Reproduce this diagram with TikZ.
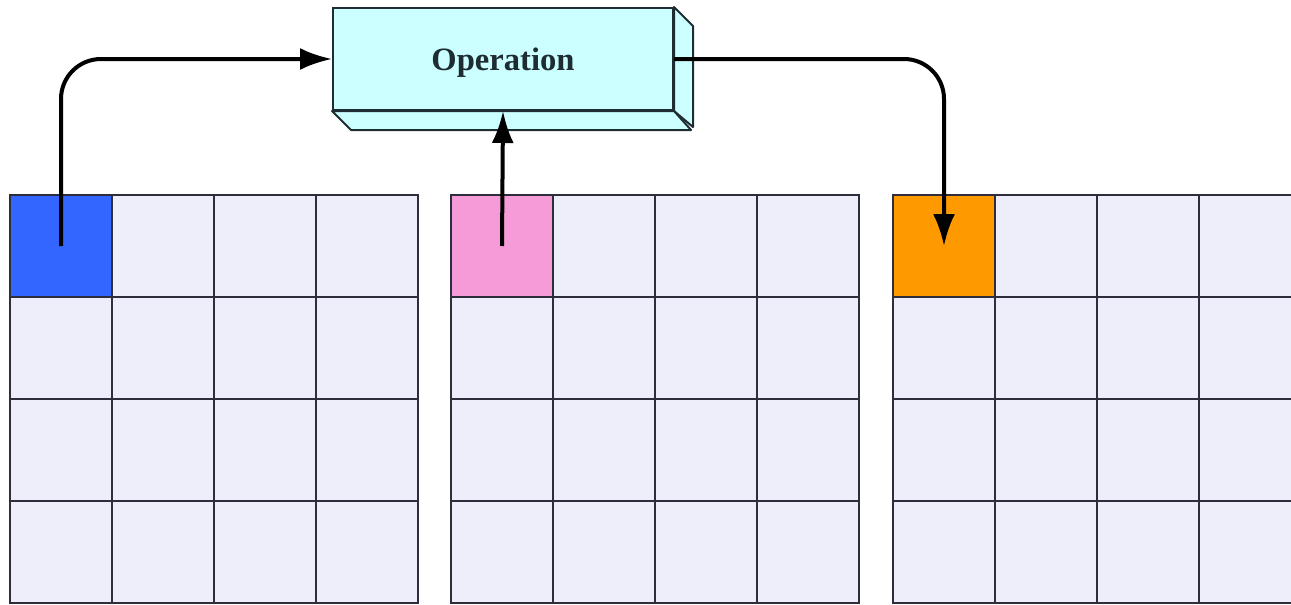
\documentclass[tikz,border=0pt]{standalone}
\usepackage{fontspec}
\setmainfont{Liberation Serif}
\usetikzlibrary{arrows.meta}
\definecolor{cellfill}{RGB}{238,238,250}
\definecolor{gridline}{RGB}{45,45,60}
\definecolor{blueC}{RGB}{51,102,255}
\definecolor{pinkC}{RGB}{245,155,215}
\definecolor{orangeC}{RGB}{255,153,0}
\definecolor{opfill}{RGB}{204,255,255}
\definecolor{opline}{RGB}{30,45,50}
\tikzset{
  cell/.style={draw=gridline, line width=1pt, fill=cellfill, minimum size=51pt, inner sep=0pt, outer sep=0pt},
  opbox/.style={draw=opline, line width=1pt, fill=opfill, minimum width=170pt, minimum height=51pt, inner sep=0pt, text depth=0pt, font=\fontsize{16.3}{18}\selectfont\bfseries, text=opline},
  face/.style={draw=opline, line width=1pt, fill=opfill, line join=round},
  arr/.style={line width=2pt, -{Latex[length=16pt,width=11pt]}, rounded corners=20pt}
}
\begin{document}
\begin{tikzpicture}[x=0.5pt,y=-0.5pt]
\useasboundingbox (0,0) rectangle (1291,605);
\clip (0,0) rectangle (1291,605);
% grids
\foreach \g/\gx in {1/10,2/451,3/893}{
  \foreach \i in {0,...,3}{
    \foreach \j in {0,...,3}{
      \node[cell] (g\g-\i-\j) at ({\gx+51+102*\i},{195+51+102*\j}) {};
    }
  }
}
\node[cell, fill=blueC] (blue) at (61,246) {};
\node[cell, fill=pinkC] (pink) at (502,246) {};
\node[cell, fill=orangeC] (orange) at (944,246) {};
% operation box
\node[opbox] (op) at (503,59) {Operation};
\draw[face] (op.north east) -- ++(19,19) -- ++(0,101) -- (op.south east) -- cycle;
\draw[face] (op.south west) -- ++(19,19) -- ++(340,0) -- (op.south east) -- cycle;
% arrows
\draw[arr] (blue.center) |- (op.west);
\draw[arr] (pink.center) -- (op.south);
\draw[arr] (op.east) -| (orange.center);
\end{tikzpicture}
\end{document}
